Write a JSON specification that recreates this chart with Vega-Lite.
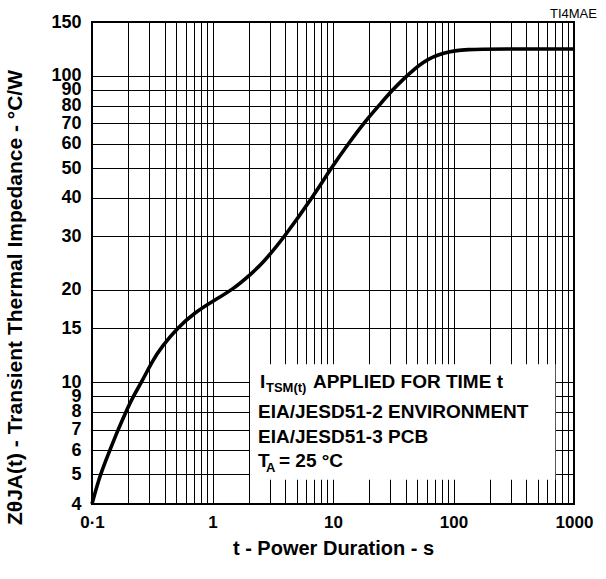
{
  "$schema": "https://vega.github.io/schema/vega-lite/v6.json",
  "width": 482,
  "height": 482,
  "autosize": {"type": "none"},
  "padding": {"left": 92, "top": 22, "right": 32, "bottom": 75},
  "background": "white",
  "title": {"text": "TI4MAE", "anchor": "end", "fontWeight": "normal", "fontSize": 13, "font": "Liberation Sans", "color": "black", "offset": -8, "dx": 4},
  "config": {
    "view": {"stroke": "black", "strokeWidth": 2},
    "font": "Liberation Sans",
    "axis": {"grid": true, "gridColor": "black", "gridOpacity": 1, "gridWidth": 1, "domain": false, "ticks": false, "labelOverlap": false, "labelBound": false, "labelFont": "Liberation Sans", "labelFontWeight": "bold", "labelColor": "black", "titleFont": "Liberation Sans", "titleFontWeight": "bold", "titleColor": "black"}
  },
  "datasets": {
    "curve": [
      {"t": 0.1, "z": 4}, {"t": 0.1165, "z": 4.98}, {"t": 0.1411, "z": 6.01}, {"t": 0.1644, "z": 6.99},
      {"t": 0.1915, "z": 8.01}, {"t": 0.2189, "z": 8.97}, {"t": 0.26, "z": 10.05}, {"t": 0.3147, "z": 11.68},
      {"t": 0.381, "z": 13.09}, {"t": 0.517, "z": 15.1}, {"t": 0.716, "z": 16.9}, {"t": 1.01, "z": 18.4},
      {"t": 1.479, "z": 20.1}, {"t": 2.047, "z": 22.4}, {"t": 2.624, "z": 24.5}, {"t": 4.0, "z": 30.0},
      {"t": 6.82, "z": 40.3}, {"t": 9.81, "z": 50.5}, {"t": 13.8, "z": 61.0}, {"t": 18.4, "z": 70.9},
      {"t": 24.5, "z": 80.7}, {"t": 30.9, "z": 89.7}, {"t": 39.6, "z": 98.9}, {"t": 55.8, "z": 111.7},
      {"t": 81.8, "z": 119.5}, {"t": 129.4, "z": 122.3}, {"t": 243, "z": 122.5}, {"t": 1000, "z": 122.5}
    ],
    "box": [{"t1": 2.05, "t2": 700, "z1": 4.8, "z2": 11.45}],
    "main": [
      {"t": 6.82, "z": 9.6, "txt": "APPLIED FOR TIME t"},
      {"t": 2.39, "z": 7.65, "txt": "EIA/JESD51-2 ENVIRONMENT"},
      {"t": 2.39, "z": 6.34, "txt": "EIA/JESD51-3 PCB"},
      {"t": 2.48, "z": 9.6, "txt": "I"},
      {"t": 2.39, "z": 5.29, "txt": "T"},
      {"t": 3.56, "z": 5.29, "txt": "= 25 °C"}
    ],
    "subs": [
      {"t": 2.78, "z": 9.3, "txt": "TSM(t)"},
      {"t": 2.78, "z": 5.1, "txt": "A"}
    ]
  },
  "layer": [
    {
      "data": {"name": "curve"},
      "mark": {"type": "line", "color": "black", "strokeWidth": 3.6, "interpolate": "basis"},
      "encoding": {
        "x": {"field": "t", "type": "quantitative", "scale": {"type": "log", "domain": [0.1, 1000], "nice": false},
          "axis": {"values": [0.1,0.2,0.3,0.4,0.5,0.6,0.7,0.8,0.9,1,2,3,4,5,6,7,8,9,10,20,30,40,50,60,70,80,90,100,200,300,400,500,600,700,800,900,1000],
            "labelExpr": "datum.value == 0.1 ? '0·1' : (indexof([1,10,100,1000], datum.value) >= 0 ? format(datum.value, 'd') : '')",
            "labelFontSize": 17, "labelPadding": 10, "labelFlush": false,
            "title": "t - Power Duration - s", "titleFontSize": 20, "titlePadding": 8}},
        "y": {"field": "z", "type": "quantitative", "scale": {"type": "log", "domain": [4, 150], "nice": false},
          "axis": {"values": [4,5,6,7,8,9,10,15,20,30,40,50,60,70,80,90,100,150], "format": "d",
            "labelFontSize": 18, "labelPadding": 11,
            "title": "ZθJA(t) - Transient Thermal Impedance - °C/W", "titleFontSize": 21, "titlePadding": 25, "titleY": 275}}
      }
    },
    {
      "data": {"name": "box"},
      "mark": {"type": "rect", "fill": "white", "stroke": null},
      "encoding": {
        "x": {"field": "t1", "type": "quantitative"},
        "x2": {"field": "t2"},
        "y": {"field": "z1", "type": "quantitative"},
        "y2": {"field": "z2"}
      }
    },
    {
      "data": {"name": "main"},
      "mark": {"type": "text", "align": "left", "baseline": "alphabetic", "fontSize": 19, "fontWeight": "bold", "color": "black", "font": "Liberation Sans"},
      "encoding": {
        "x": {"field": "t", "type": "quantitative"},
        "y": {"field": "z", "type": "quantitative"},
        "text": {"field": "txt"}
      }
    },
    {
      "data": {"name": "subs"},
      "mark": {"type": "text", "align": "left", "baseline": "alphabetic", "fontSize": 13, "fontWeight": "bold", "color": "black", "font": "Liberation Sans"},
      "encoding": {
        "x": {"field": "t", "type": "quantitative"},
        "y": {"field": "z", "type": "quantitative"},
        "text": {"field": "txt"}
      }
    }
  ]
}
